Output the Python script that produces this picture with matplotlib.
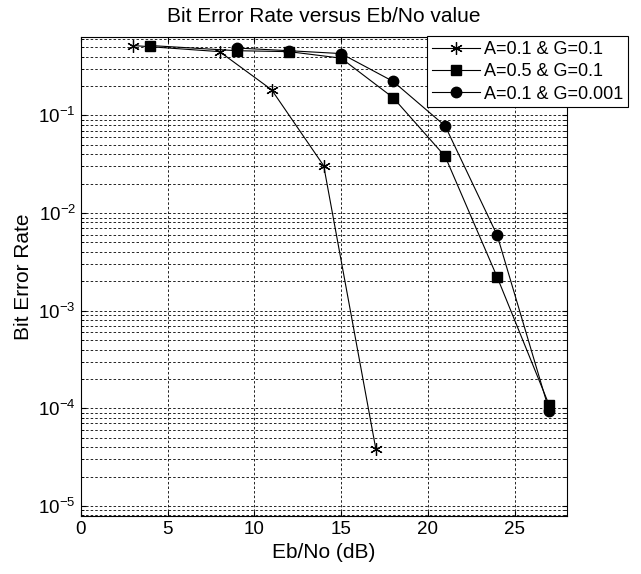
import numpy as np
import matplotlib.pyplot as plt

plt.rcParams['font.family'] = ['Liberation Sans', 'DejaVu Sans']

# series
x1 = [3, 8, 11, 14, 17]
ber1 = [0.52, 0.45, 0.183, 0.0305, 3.86e-5]

x2 = [4, 9, 12, 15, 18, 21, 24, 27]
ber2 = [0.52, 0.46, 0.45, 0.386, 0.152, 0.038, 0.0022, 1.07e-4]

x3 = [9, 12, 15, 18, 21, 24, 27]
ber3 = [0.49, 0.46, 0.43, 0.223, 0.078, 0.0059, 9.4e-5]

labels = ["A=0.1 & G=0.1", "A=0.5 & G=0.1", "A=0.1 & G=0.001"]

fig = plt.figure(figsize=(6.41, 5.74), dpi=100)
ax = fig.add_axes([0.126, 0.1016, 0.758, 0.8334])

ax.semilogy(x1, ber1, color="black", linewidth=0.8, marker=(6, 2, 0),
            markersize=9, markeredgewidth=0.9, label=labels[0])
ax.semilogy(x2, ber2, color="black", linewidth=0.8, marker="s",
            markersize=7.5, label=labels[1])
ax.semilogy(x3, ber3, color="black", linewidth=0.8, marker="o",
            markersize=7.5, label=labels[2])

ax.set_xlim(0, 28)
ax.set_ylim(10 ** -5.1, 10 ** -0.2)
ax.set_xticks([0, 5, 10, 15, 20, 25])

ax.grid(True, which="major", color="black", linestyle=(0, (3, 2.5)), linewidth=0.6)
ax.grid(True, which="minor", axis="y", color="black", linestyle=(0, (3, 2.5)), linewidth=0.6)
ax.tick_params(which="both", direction="in", top=True, right=True, labelsize=13.5)
ax.tick_params(axis="x", which="minor", bottom=False, top=False)

ax.set_title("Bit Error Rate versus Eb/No value", fontsize=15, pad=11)
ax.set_xlabel("Eb/No (dB)", fontsize=15)
ax.set_ylabel("Bit Error Rate", fontsize=15)

leg = ax.legend(loc="upper left", bbox_to_anchor=(0.713, 1.002), fontsize=13,
                frameon=True, fancybox=False, edgecolor="black", framealpha=1,
                borderaxespad=0, handlelength=2.7, handletextpad=0.2,
                borderpad=0.25, labelspacing=0.3)
leg.get_frame().set_linewidth(0.8)

plt.savefig("out.png", dpi=100)
